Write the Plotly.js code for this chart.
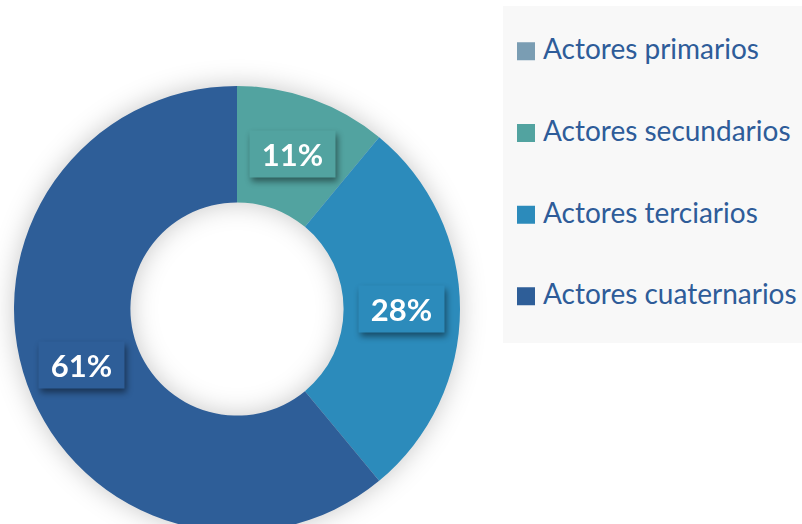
<!DOCTYPE html>
<html>
<head>
<meta charset="utf-8">
<script src="https://cdn.plot.ly/plotly-3.0.1.min.js"></script>
<style>
html, body { margin: 0; padding: 0; overflow: hidden; width: 802px; height: 524px; background: #fff; }
#chart { width: 802px; height: 540px; }
.pielayer .trace { filter: drop-shadow(0px 0px 13px rgba(0,0,0,0.22)); }
.annotation-text-g { filter: drop-shadow(2px 4px 3px rgba(0,0,0,0.45)); }
</style>
</head>
<body>
<div id="chart"></div>
<script>
const labels = ['Actores primarios', 'Actores secundarios', 'Actores terciarios', 'Actores cuaternarios'];
const values = [0, 11, 28, 61];
const colors = ['#7a9db3', '#52a3a0', '#2c8bbb', '#2e5e98'];

const W = 802, H = 540;
const dom = { x: [14 / W, 460 / W], y: [(H - 532) / H, (H - 86) / H] };
const hole = 0.478;

const total = values.reduce((a, b) => a + b, 0);
const R = (dom.x[1] - dom.x[0]) * W / 2;
const rMid = R * (1 + hole) / 2;
const cx = (dom.x[0] + dom.x[1]) / 2, cy = (dom.y[0] + dom.y[1]) / 2;

const annotations = [];
let cum = 0;
values.forEach((v, i) => {
  if (v > 0) {
    const a = 2 * Math.PI * (cum + v / 2) / total;
    annotations.push({
      xref: 'paper', yref: 'paper',
      x: cx + rMid * Math.sin(a) / W,
      y: cy + rMid * Math.cos(a) / H,
      xanchor: 'center', yanchor: 'middle',
      text: '<b>' + Math.round(100 * v / total) + '%</b>',
      showarrow: false,
      bgcolor: colors[i],
      width: 75, height: 36, borderpad: 5,
      font: { family: 'Lato, sans-serif', size: 31, color: '#ffffff' }
    });
  }
  cum += v;
});

// legend entries: label line padded with blank lines for the wide row spacing
const legendLabels = labels.map(l => '&nbsp;<br><span style="font-size:28px">' + l + '</span><br>&nbsp;');

const trace = {
  type: 'pie',
  labels: legendLabels,
  values: values,
  hole: hole,
  sort: false,
  direction: 'clockwise',
  rotation: 0,
  domain: dom,
  marker: { colors: colors, line: { width: 0 } },
  textinfo: 'none',
  hoverinfo: 'percent'
};

const layout = {
  width: W, height: H,
  margin: { l: 0, r: 0, t: 0, b: 0, autoexpand: false },
  paper_bgcolor: '#ffffff',
  showlegend: true,
  legend: {
    x: 503 / W, y: (H - 5.5) / H, xanchor: 'left', yanchor: 'top',
    bgcolor: '#f8f8f8',
    font: { family: 'Lato, sans-serif', size: 20.17, color: '#2e5c99' },
    itemwidth: 30
  },
  annotations: annotations
};

Plotly.newPlot('chart', [trace], layout, { displayModeBar: false, staticPlot: true }).then(gd => {
  gd.querySelectorAll('.legendpoints path').forEach(p => p.setAttribute('d', 'M12,9H-6V-9H12Z'));
});
</script>
</body>
</html>
